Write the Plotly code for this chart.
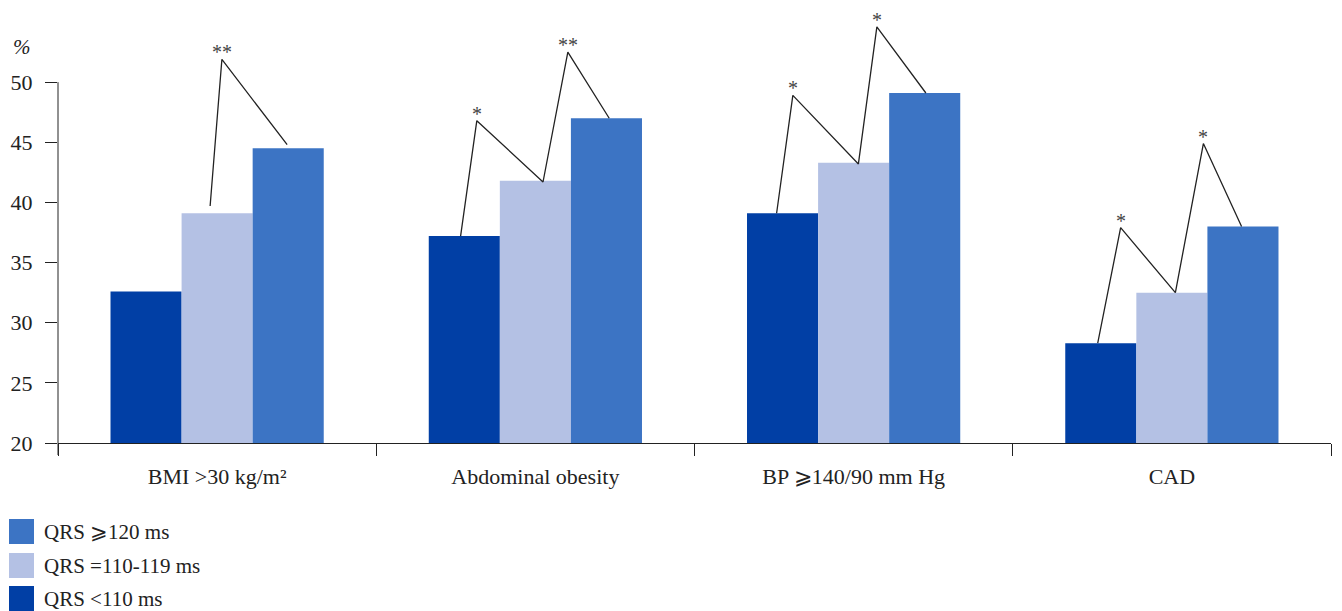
import plotly.graph_objects as go

# ---------------- data ----------------
categories = ["BMI >30 kg/m²", "Abdominal obesity", "BP ⩾140/90 mm Hg", "CAD"]
series_names = ["QRS <110 ms", "QRS =110-119 ms", "QRS ⩾120 ms"]
qrs_lt110 = [32.6, 37.2, 39.1, 28.3]
qrs_110_119 = [39.1, 41.8, 43.3, 32.5]
qrs_ge120 = [44.5, 47.0, 49.1, 38.0]
series_values = [qrs_lt110, qrs_110_119, qrs_ge120]
series_colors = ["#013FA5", "#B4C1E4", "#3C74C4"]

y_ticks = [20, 25, 30, 35, 40, 45, 50]

# significance brackets (x in category units, y in %)
bracket_x = [
    [-0.022, 0.015, 0.220],
    [0.765, 0.816, 1.024, 1.102, 1.232],
    [1.758, 1.809, 2.015, 2.073, 2.227],
    [2.767, 2.839, 3.011, 3.099, 3.219],
]
bracket_y = [
    [39.7, 51.9, 44.8],
    [37.2, 46.8, 41.7, 52.5, 47.0],
    [39.1, 48.9, 43.2, 54.6, 49.1],
    [28.3, 37.9, 32.5, 44.9, 38.0],
]
star_x = [0.015, 0.816, 1.102, 1.809, 2.073, 2.839, 3.099]
star_y = [51.9, 46.8, 52.5, 48.9, 54.6, 37.9, 44.9]
star_text = ["**", "*", "**", "*", "*", "*", "*"]

# ---------------- layout geometry ----------------
OFF = 8  # default body margin of the html page
W, H = 1342 - OFF, 611 - OFF
ML, MT = 58 - OFF, 10 - OFF
PW, PH = 1273, 433
MR, MB = W - ML - PW, H - MT - PH
Y_RANGE = [20, 56]
FONT = "Liberation Serif"
INK = "#222222"


def px_x(px):  # page pixel -> paper x
    return (px - OFF - ML) / PW


def px_y(py):  # page pixel -> paper y
    return (MT + PH - (py - OFF)) / PH


fig = go.Figure()
xs = list(range(len(categories)))
for name, vals, col in zip(series_names, series_values, series_colors):
    fig.add_trace(go.Bar(x=xs, y=vals, name=name, marker=dict(color=col, line=dict(width=0)),
                         showlegend=False, hoverinfo="y"))

for bx, by in zip(bracket_x, bracket_y):
    fig.add_trace(go.Scatter(x=bx, y=by, mode="lines", line=dict(color=INK, width=1.3),
                             showlegend=False, hoverinfo="skip"))

annotations = []
for sx, sy, st in zip(star_x, star_y, star_text):
    annotations.append(dict(x=sx, y=sy, xref="x", yref="y", text=st, showarrow=False,
                            yanchor="bottom", yshift=-6,
                            font=dict(family=FONT, size=20, color="#444444")))

# % label
annotations.append(dict(x=px_x(22), y=px_y(47), xref="paper", yref="paper", text="<i>%</i>",
                        showarrow=False, xanchor="center", yanchor="middle",
                        font=dict(family=FONT, size=21, color=INK)))

shapes = []
# y-axis line from 20 to 50 (extends a bit below the x axis)
shapes.append(dict(type="line", xref="paper", yref="paper", x0=0, x1=0,
                   y0=px_y(455), y1=(50 - Y_RANGE[0]) / (Y_RANGE[1] - Y_RANGE[0]),
                   line=dict(color=INK, width=1)))

# manual legend (top to bottom: reversed series order)
leg_tops = [519, 553, 586]
for top, name, col in zip(leg_tops, series_names[::-1], series_colors[::-1]):
    shapes.append(dict(type="rect", xref="paper", yref="paper",
                       x0=px_x(9), x1=px_x(34), y0=px_y(top + 25), y1=px_y(top),
                       fillcolor=col, line=dict(width=0)))
    annotations.append(dict(x=px_x(42), y=px_y(top + 12.5), xref="paper", yref="paper",
                            text=name, showarrow=False, xanchor="left", yanchor="middle",
                            font=dict(family=FONT, size=21, color=INK)))

fig.update_layout(
    width=W, height=H,
    margin=dict(l=ML, r=MR, t=MT, b=MB, autoexpand=False),
    paper_bgcolor="white", plot_bgcolor="white",
    barmode="group", bargap=0.33, bargroupgap=0,
    font=dict(family=FONT, size=22, color=INK),
    xaxis=dict(range=[-0.5, 3.5], tickmode="array", tickvals=xs, ticktext=categories,
               ticks="", showgrid=False, zeroline=False, showline=True,
               linecolor=INK, linewidth=1, ticklabelstandoff=14,
               tickfont=dict(family=FONT, size=22, color=INK),
               minor=dict(tickmode="array", tickvals=[-0.5, 0.5, 1.5, 2.5, 3.5],
                          ticks="outside", ticklen=12, tickcolor=INK, tickwidth=1,
                          showgrid=False)),
    yaxis=dict(range=Y_RANGE, tickmode="array", tickvals=y_ticks, ticks="outside",
               ticklen=12, tickcolor=INK, tickwidth=1, showgrid=False, zeroline=False,
               showline=False, ticklabelstandoff=8,
               tickfont=dict(family=FONT, size=22, color=INK)),
    shapes=shapes, annotations=annotations,
)

fig.write_html("out.html")
